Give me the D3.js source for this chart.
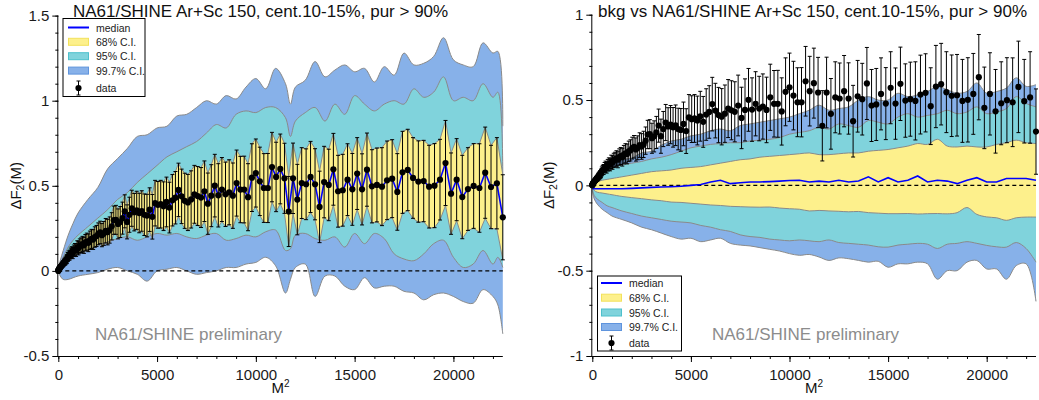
<!DOCTYPE html>
<html><head><meta charset="utf-8">
<script src="https://cdn.jsdelivr.net/npm/d3@7"></script>
<style>
body{margin:0;background:#fff}
svg{display:block}
text{font-family:"Liberation Sans",Arial,sans-serif}
</style>
</head><body>
<svg id="c" width="1039" height="400"></svg>
<script>
// ---------------- data ----------------
const msq = [1,4,9,16,25,36,49,64,81,100,
121,144,169,196,225,256,289,324,361,400,
441,484,529,576,625,676,729,784,841,900,
961,1024,1089,1156,1225,1296,1369,1444,1521,1600,
1681,1764,1849,1936,2025,2116,2209,2304,2401,2500,
2601,2704,2809,2916,3025,3136,3249,3364,3481,3600,
3721,3844,3969,4096,4225,4356,4489,4624,4761,4900,
5041,5184,5329,5476,5625,5776,5929,6084,6241,6400,
6561,6724,6889,7056,7225,7396,7569,7744,7921,8100,
8281,8464,8649,8836,9025,9216,9409,9604,9801,10000,
10201,10404,10609,10816,11025,11236,11449,11664,11881,12100,
12321,12544,12769,12996,13225,13456,13689,13924,14161,14400,
14641,14884,15129,15376,15625,15876,16129,16384,16641,16900,
17161,17424,17689,17956,18225,18496,18769,19044,19321,19600,
19881,20164,20449,20736,21025,21316,21609,21904,22201,22500];

const dataVal = [0.000,0.002,0.004,0.006,0.008,0.011,0.013,0.016,0.019,0.021,
0.025,0.028,0.031,0.036,0.040,0.043,0.049,0.053,0.058,0.064,
0.070,0.082,0.090,0.093,0.104,0.110,0.105,0.118,0.125,0.122,
0.138,0.134,0.146,0.151,0.158,0.150,0.166,0.172,0.165,0.180,
0.188,0.184,0.199,0.205,0.218,0.226,0.210,0.220,0.236,0.228,
0.240,0.262,0.298,0.300,0.276,0.287,0.310,0.350,0.288,0.330,
0.368,0.345,0.356,0.340,0.352,0.330,0.325,0.360,0.318,0.398,
0.388,0.392,0.380,0.405,0.372,0.415,0.430,0.476,0.438,0.412,
0.402,0.420,0.450,0.440,0.431,0.468,0.395,0.442,0.501,0.444,
0.478,0.450,0.462,0.442,0.516,0.478,0.478,0.433,0.548,0.575,
0.526,0.487,0.487,0.610,0.552,0.599,0.544,0.349,0.544,0.419,
0.516,0.509,0.552,0.509,0.376,0.522,0.505,0.597,0.468,0.474,
0.536,0.479,0.572,0.479,0.595,0.497,0.505,0.495,0.532,0.542,
0.464,0.579,0.593,0.546,0.525,0.528,0.495,0.501,0.536,0.634,
0.454,0.536,0.434,0.481,0.499,0.487,0.577,0.493,0.515,0.315];

const dataErr = [0.002,0.003,0.004,0.005,0.006,0.007,0.008,0.009,0.010,0.011,
0.012,0.013,0.014,0.016,0.017,0.018,0.019,0.021,0.022,0.023,
0.025,0.026,0.027,0.029,0.030,0.032,0.033,0.034,0.036,0.037,
0.039,0.040,0.042,0.043,0.045,0.047,0.048,0.050,0.052,0.054,
0.056,0.058,0.060,0.062,0.064,0.066,0.068,0.070,0.072,0.075,
0.077,0.080,0.083,0.085,0.088,0.091,0.094,0.097,0.100,0.103,
0.106,0.110,0.112,0.116,0.119,0.122,0.125,0.128,0.131,0.134,
0.137,0.140,0.143,0.146,0.149,0.151,0.154,0.157,0.160,0.162,
0.165,0.168,0.170,0.173,0.176,0.178,0.180,0.182,0.184,0.186,
0.188,0.189,0.191,0.192,0.194,0.195,0.196,0.197,0.199,0.200,
0.201,0.202,0.203,0.204,0.204,0.205,0.206,0.206,0.207,0.207,
0.208,0.208,0.209,0.209,0.210,0.210,0.210,0.211,0.211,0.211,
0.211,0.211,0.211,0.209,0.215,0.215,0.217,0.229,0.231,0.229,
0.225,0.241,0.239,0.237,0.239,0.239,0.243,0.247,0.237,0.250,
0.239,0.241,0.245,0.243,0.249,0.260,0.268,0.245,0.268,0.250];

// left panel confidence-band edges (sampled along M^2)
const leftBandX = [0,100,250,500,750,1000,1500,2000,2500,3000,3500,4000,4500,5000,5500,6000,6500,7000,7500,8000,8500,9000,9500,10000,10500,11000,11500,11750,12000,12500,13000,13500,14000,14500,15000,15500,16000,16500,17000,17500,18000,18500,19000,19500,20000,20500,21000,21500,22000,22250,22500];
const leftHi997 = [0.00,0.06,0.12,0.21,0.28,0.34,0.42,0.49,0.60,0.66,0.72,0.79,0.80,0.84,0.85,0.91,0.92,0.96,1.00,0.98,1.03,1.01,1.08,1.13,1.07,1.19,1.10,0.98,1.08,1.12,1.23,1.14,1.18,1.21,1.17,1.19,1.11,1.20,1.15,1.28,1.21,1.22,1.26,1.37,1.24,1.21,1.20,1.34,1.28,1.29,0.85];
const leftHi95 = [0.00,0.04,0.08,0.14,0.18,0.21,0.26,0.31,0.36,0.42,0.46,0.52,0.57,0.62,0.67,0.70,0.73,0.76,0.81,0.86,0.84,0.92,0.94,0.93,0.96,0.96,0.90,0.79,0.88,0.93,0.96,0.88,0.98,0.92,1.03,0.98,0.94,0.98,1.00,0.98,1.07,1.02,1.05,1.14,1.00,1.02,1.00,1.10,1.02,1.05,0.57];
const leftLo95 = [0.00,0.01,0.03,0.05,0.08,0.10,0.12,0.15,0.17,0.19,0.20,0.18,0.20,0.22,0.21,0.22,0.20,0.19,0.21,0.22,0.18,0.19,0.21,0.20,0.23,0.24,0.12,0.13,0.21,0.22,0.19,0.18,0.20,0.14,0.22,0.16,0.22,0.19,0.10,0.07,0.06,0.10,0.16,0.18,0.08,0.02,0.04,0.12,0.04,0.08,0.02];
const leftLo997 = [0.00,-0.03,-0.05,-0.05,-0.04,-0.03,-0.02,-0.01,0.01,0.02,0.00,-0.02,-0.06,0.00,0.01,0.02,0.00,-0.02,-0.01,0.00,0.02,0.02,0.04,0.05,0.08,0.03,-0.13,-0.05,0.02,0.04,-0.15,-0.03,-0.03,-0.09,-0.11,-0.04,-0.10,-0.09,-0.09,-0.12,-0.13,-0.17,-0.14,-0.13,-0.15,-0.18,-0.19,-0.11,-0.15,-0.20,-0.37];

// right panel (background) bands
const rightBandX = [0,100,250,500,750,1000,1500,2000,2500,3000,3500,4000,4500,5000,5500,6000,6500,7000,7500,8000,8500,9000,9500,10000,10500,11000,11500,12000,12500,13000,13500,14000,14500,15000,15500,16000,16500,17000,17500,18000,18500,19000,19500,20000,20500,21000,21500,22000,22500];
const rightHi997 = [0.00,0.04,0.07,0.10,0.12,0.13,0.15,0.16,0.19,0.20,0.235,0.26,0.27,0.29,0.30,0.32,0.33,0.32,0.35,0.36,0.37,0.38,0.39,0.40,0.42,0.44,0.47,0.44,0.45,0.46,0.50,0.52,0.50,0.50,0.54,0.52,0.53,0.55,0.58,0.56,0.54,0.55,0.60,0.54,0.55,0.57,0.63,0.58,0.59];
const rightHi95 = [0.00,0.03,0.05,0.07,0.09,0.10,0.12,0.13,0.14,0.155,0.165,0.18,0.20,0.22,0.23,0.24,0.245,0.25,0.25,0.26,0.265,0.27,0.28,0.30,0.31,0.32,0.34,0.33,0.36,0.35,0.34,0.38,0.37,0.36,0.40,0.42,0.40,0.41,0.42,0.44,0.42,0.43,0.46,0.42,0.43,0.45,0.52,0.48,0.46];
const rightHi68 = [0.00,0.01,0.02,0.03,0.035,0.04,0.05,0.06,0.07,0.08,0.085,0.09,0.10,0.105,0.11,0.12,0.13,0.14,0.15,0.155,0.165,0.17,0.175,0.18,0.185,0.19,0.18,0.18,0.185,0.19,0.19,0.20,0.205,0.21,0.22,0.23,0.245,0.24,0.27,0.23,0.225,0.23,0.225,0.225,0.24,0.25,0.265,0.25,0.245];
const rightMedian = [-0.02,-0.02,-0.02,-0.02,-0.02,-0.02,-0.02,-0.018,-0.015,-0.012,-0.01,-0.008,-0.005,0.0,0.005,0.02,0.03,0.01,0.015,0.02,0.02,0.022,0.025,0.028,0.03,0.02,0.025,0.02,0.03,0.02,0.025,0.05,0.02,0.045,0.02,0.03,0.055,0.02,0.03,0.025,0.01,0.03,0.045,0.02,0.02,0.04,0.04,0.04,0.03];
const rightLo68 = [-0.01,-0.03,-0.04,-0.045,-0.05,-0.055,-0.065,-0.072,-0.078,-0.085,-0.09,-0.098,-0.10,-0.105,-0.11,-0.115,-0.118,-0.123,-0.125,-0.127,-0.128,-0.127,-0.133,-0.137,-0.14,-0.15,-0.147,-0.15,-0.152,-0.155,-0.153,-0.16,-0.163,-0.166,-0.166,-0.165,-0.168,-0.166,-0.165,-0.167,-0.16,-0.13,-0.17,-0.185,-0.19,-0.205,-0.19,-0.186,-0.186];
const rightLo95 = [-0.02,-0.06,-0.08,-0.10,-0.12,-0.13,-0.15,-0.165,-0.18,-0.19,-0.20,-0.21,-0.215,-0.22,-0.235,-0.245,-0.26,-0.27,-0.29,-0.30,-0.305,-0.315,-0.32,-0.325,-0.32,-0.325,-0.33,-0.32,-0.335,-0.34,-0.345,-0.35,-0.36,-0.362,-0.35,-0.345,-0.34,-0.345,-0.37,-0.345,-0.34,-0.33,-0.34,-0.352,-0.36,-0.362,-0.335,-0.37,-0.45];
const rightLo997 = [-0.03,-0.08,-0.11,-0.14,-0.16,-0.18,-0.20,-0.22,-0.245,-0.26,-0.28,-0.30,-0.315,-0.31,-0.33,-0.32,-0.31,-0.34,-0.35,-0.355,-0.365,-0.375,-0.385,-0.40,-0.41,-0.405,-0.42,-0.44,-0.425,-0.43,-0.44,-0.45,-0.445,-0.48,-0.46,-0.46,-0.45,-0.46,-0.55,-0.50,-0.50,-0.45,-0.44,-0.49,-0.49,-0.55,-0.47,-0.46,-0.68];

const xTicks = [0,5000,10000,15000,20000];
const xTickLabels = ["0","5000","10000","15000","20000"];
const leftYTicks = [-0.5,0,0.5,1,1.5];
const leftYLabels = ["-0.5","0","0.5","1","1.5"];
const rightYTicks = [-1,-0.5,0,0.5,1];
const rightYLabels = ["-1","-0.5","0","0.5","1"];
const legendLabels = ["median","68% C.I.","95% C.I.","99.7% C.I.","data"];
const leftTitle = "NA61/SHINE Ar+Sc 150, cent.10-15%, pur > 90%";
const rightTitle = "bkg vs NA61/SHINE Ar+Sc 150, cent.10-15%, pur > 90%";
const watermark = "NA61/SHINE preliminary";

// ---------------- style ----------------
const COL = {b997:"#87b1e9", b95:"#80d3dc", b68:"#fdf08c", edge:"#8a8a8a",
             s997:"#5f94dd", s95:"#4ec0cc", s68:"#f2e25c", median:"#0000ff"};

const svg = d3.select("#c");

function panel(cfg){
  const g = svg.append("g");
  const x = d3.scaleLinear().domain([0,22500]).range([cfg.x0,cfg.x1]);
  const y = d3.scaleLinear().domain(cfg.yDomain).range([cfg.yB,cfg.yT]);
  const curve = d3.curveCatmullRom.alpha(0.5);
  const bx = cfg.bandX;
  const area = (lo,hi,c) => d3.area().x((d,i)=>x(bx[i])).y0((d,i)=>y(lo[i])).y1((d,i)=>y(hi[i])).curve(c||curve)(bx);
  const line = (arr) => d3.line().x((d,i)=>x(bx[i])).y((d,i)=>y(arr[i])).curve(curve)(bx);

  // bands
  g.append("path").attr("d",area(cfg.lo997,cfg.hi997)).attr("fill",COL.b997);
  g.append("path").attr("d",area(cfg.lo95,cfg.hi95)).attr("fill",COL.b95);
  let lo68Path, hi68Path;
  if(cfg.useDataBand){
    const a = d3.area().x((d,i)=>x(msq[i])).y0((d,i)=>y(dataVal[i]-dataErr[i])).y1((d,i)=>y(dataVal[i]+dataErr[i]))(msq);
    g.append("path").attr("d",a).attr("fill",COL.b68);
    lo68Path = d3.line().x((d,i)=>x(msq[i])).y((d,i)=>y(dataVal[i]-dataErr[i]))(msq);
    hi68Path = d3.line().x((d,i)=>x(msq[i])).y((d,i)=>y(dataVal[i]+dataErr[i]))(msq);
  } else {
    g.append("path").attr("d",area(cfg.lo68,cfg.hi68)).attr("fill",COL.b68);
    lo68Path = line(cfg.lo68); hi68Path = line(cfg.hi68);
  }
  // edges
  [line(cfg.lo997),line(cfg.hi997),line(cfg.lo95),line(cfg.hi95),lo68Path,hi68Path].forEach(p=>{
    g.append("path").attr("d",p).attr("fill","none").attr("stroke",COL.edge).attr("stroke-width",1);
  });
  // zero line
  g.append("line").attr("x1",x(0)).attr("x2",x(22500)).attr("y1",y(0)).attr("y2",y(0))
    .attr("stroke","#000").attr("stroke-width",1.2).attr("stroke-dasharray","4,3");
  // median
  if(cfg.useDataBand){
    g.append("path").attr("d",d3.line().x((d,i)=>x(msq[i])).y((d,i)=>y(dataVal[i]))(msq))
      .attr("fill","none").attr("stroke",COL.median).attr("stroke-width",1.6);
  } else {
    g.append("path").attr("d",d3.line().x((d,i)=>x(bx[i])).y((d,i)=>y(cfg.median[i]))(bx))
      .attr("fill","none").attr("stroke",COL.median).attr("stroke-width",1.6);
  }
  // error bars
  const eb = g.append("g").attr("stroke","#000").attr("stroke-width",1);
  msq.forEach((m,i)=>{
    const cx = x(m), t = y(dataVal[i]+dataErr[i]), b = y(dataVal[i]-dataErr[i]);
    eb.append("line").attr("x1",cx).attr("x2",cx).attr("y1",t).attr("y2",b);
    eb.append("line").attr("x1",cx-2).attr("x2",cx+2).attr("y1",t).attr("y2",t);
    eb.append("line").attr("x1",cx-2).attr("x2",cx+2).attr("y1",b).attr("y2",b);
  });
  g.append("g").selectAll("circle").data(msq).join("circle")
    .attr("cx",d=>x(d)).attr("cy",(d,i)=>y(dataVal[i])).attr("r",3.1).attr("fill","#000");

  // axes
  const ax = g.append("g").attr("transform",`translate(0,${cfg.yB})`);
  ax.call(d3.axisBottom(x).tickValues(d3.range(0,22001,1000)).tickSize(3).tickFormat("").tickSizeOuter(0));
  ax.call(g2=>g2.select(".domain").remove());
  const ax2 = g.append("g").attr("transform",`translate(0,${cfg.yB})`)
    .call(d3.axisBottom(x).tickValues(xTicks).tickSize(6).tickPadding(7).tickSizeOuter(0)
      .tickFormat((d,i)=>xTickLabels[i]));
  const ay = g.append("g").attr("transform",`translate(${cfg.x0},0)`);
  ay.call(d3.axisLeft(y).tickValues(cfg.yMinor).tickSize(3).tickFormat("").tickSizeOuter(0));
  ay.call(g2=>g2.select(".domain").remove());
  const ay2 = g.append("g").attr("transform",`translate(${cfg.x0},0)`)
    .call(d3.axisLeft(y).tickValues(cfg.yTicks).tickSize(6).tickPadding(3).tickSizeOuter(0)
      .tickFormat((d,i)=>cfg.yLabels[i]));
  [ax,ax2,ay,ay2].forEach(a=>{
    a.selectAll("path,line").attr("stroke","#000");
    a.selectAll("text").attr("font-size",15).attr("fill","#1a1a1a")
     .style("font-family","'Liberation Sans',Arial,sans-serif");
  });
  ax2.select(".domain").attr("d",`M${cfg.x0},0.5H${cfg.x1}`);
  ay2.select(".domain").attr("d",`M-0.5,${cfg.yB}V${cfg.yT}`);

  // titles
  g.append("text").attr("x",cfg.titleX).attr("y",17).attr("font-size",17).attr("fill","#111").text(cfg.title);
  const yt = g.append("text").attr("transform",`translate(${cfg.yTitleX},${(cfg.yB+cfg.yT)/2}) rotate(-90)`)
    .attr("text-anchor","middle").attr("font-size",15).attr("fill","#111");
  yt.append("tspan").text("\u0394F");
  yt.append("tspan").attr("font-size",10.5).attr("dy",3).text("2");
  yt.append("tspan").attr("dy",-3).text("(M)");
  const xt = g.append("text").attr("x",(cfg.x0+cfg.x1)/2).attr("y",393).attr("text-anchor","middle")
    .attr("font-size",15).attr("fill","#111");
  xt.append("tspan").text("M");
  xt.append("tspan").attr("font-size",10).attr("dy",-6).text("2");
  g.append("text").attr("x",cfg.wmX).attr("y",340).attr("font-size",17).attr("fill","#8c8c8c").text(watermark);

  // legend
  const L = cfg.leg;
  const lg = g.append("g");
  lg.append("rect").attr("x",L.x).attr("y",L.y).attr("width",L.w).attr("height",L.h)
    .attr("fill","#fff").attr("stroke","#000").attr("stroke-width",1);
  const rowsY = L.rows;
  lg.append("line").attr("x1",L.sx).attr("x2",L.sx+21).attr("y1",rowsY[0]).attr("y2",rowsY[0])
    .attr("stroke",COL.median).attr("stroke-width",2);
  [[COL.b68,COL.s68],[COL.b95,COL.s95],[COL.b997,COL.s997]].forEach((c,k)=>{
    lg.append("rect").attr("x",L.sx+0.5).attr("y",rowsY[k+1]-3.5).attr("width",20).attr("height",7)
      .attr("fill",c[0]).attr("stroke",c[1]).attr("stroke-width",1);
  });
  const mx = L.sx+10.5, my = rowsY[4];
  lg.append("line").attr("x1",mx).attr("x2",mx).attr("y1",my-7).attr("y2",my+7).attr("stroke","#000");
  lg.append("line").attr("x1",mx-2).attr("x2",mx+2).attr("y1",my-7).attr("y2",my-7).attr("stroke","#000");
  lg.append("line").attr("x1",mx-2).attr("x2",mx+2).attr("y1",my+7).attr("y2",my+7).attr("stroke","#000");
  lg.append("circle").attr("cx",mx).attr("cy",my).attr("r",3.1).attr("fill","#000");
  legendLabels.forEach((t,k)=>{
    lg.append("text").attr("x",L.tx).attr("y",rowsY[k]+4).attr("font-size",10.5).attr("fill","#222").text(t);
  });
}

panel({x0:58.3,x1:502.8,yDomain:[-0.5,1.5],yB:356,yT:15.6,
  bandX:leftBandX,hi997:leftHi997,hi95:leftHi95,lo95:leftLo95,lo997:leftLo997,useDataBand:true,
  yTicks:leftYTicks,yLabels:leftYLabels,yMinor:d3.range(-5,16).map(k=>k/10),
  title:leftTitle,titleX:73,yTitleX:21,wmX:95,
  leg:{x:63,y:18.5,w:82,h:78,sx:68,tx:96,rows:[27.5,41.8,56.2,70.6,88]}});

panel({x0:592.3,x1:1036,yDomain:[-1,1],yB:356,yT:14.7,
  bandX:rightBandX,hi997:rightHi997,hi95:rightHi95,hi68:rightHi68,median:rightMedian,
  lo68:rightLo68,lo95:rightLo95,lo997:rightLo997,useDataBand:false,
  yTicks:rightYTicks,yLabels:rightYLabels,yMinor:d3.range(-10,11).map(k=>k/10),
  title:rightTitle,titleX:598,yTitleX:554,wmX:712,
  leg:{x:597.5,y:276,w:84,h:75,sx:601,tx:629,rows:[283,297.7,312.5,327,343]}});
</script>
</body></html>
